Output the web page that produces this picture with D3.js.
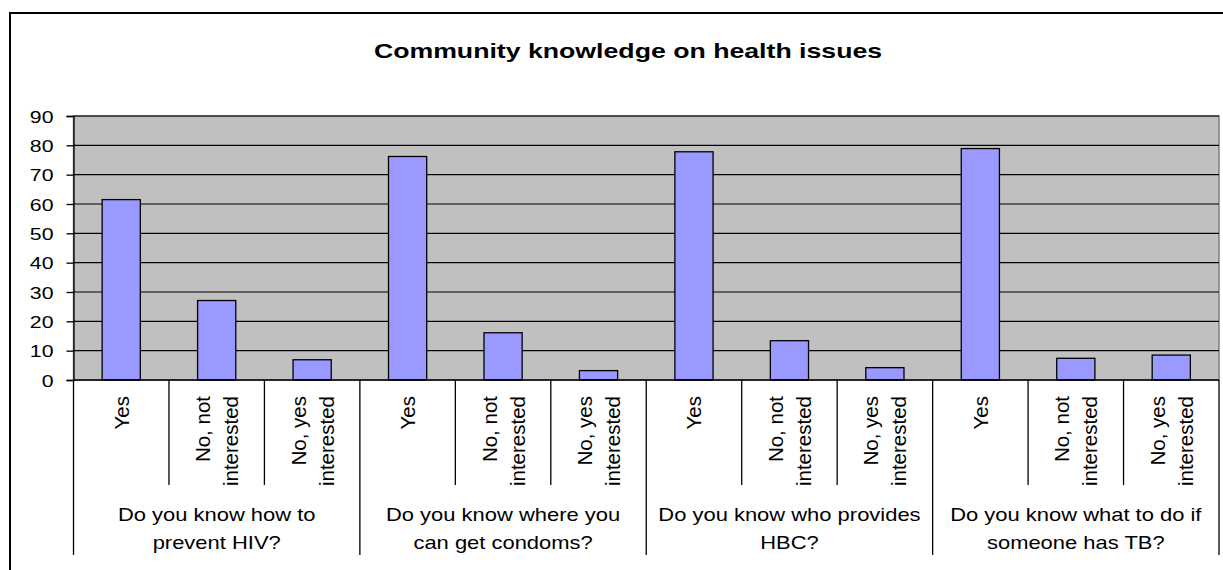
<!DOCTYPE html>
<html>
<head>
<meta charset="utf-8">
<script src="https://cdn.jsdelivr.net/npm/d3@7"></script>
<style>
  html, body { margin: 0; padding: 0; background: #fff; }
  svg { display: block; font-family: "Liberation Sans", Arial, sans-serif; }
</style>
</head>
<body>
<svg id="chart" width="1223" height="570"></svg>
<script>
// ---- data ----
const title = "Community knowledge on health issues";
const questions = [
  "Do you know how to prevent HIV?",
  "Do you know where you can get condoms?",
  "Do you know who provides HBC?",
  "Do you know what to do if someone has TB?"
];
const questionLines = [
  ["Do you know how to", "prevent HIV?"],
  ["Do you know where you", "can get condoms?"],
  ["Do you know who provides", "HBC?"],
  ["Do you know what to do if", "someone has TB?"]
];
const answers = ["Yes", "No, not interested", "No, yes interested"];
const answerLines = [["Yes"], ["No, not", "interested"], ["No, yes", "interested"]];
const hivValues = [61.5, 27.1, 6.9];
const condomValues = [76.2, 16.1, 3.2];
const hbcValues = [77.8, 13.4, 4.2];
const tbValues = [78.9, 7.4, 8.5];
const yTicks = [0, 10, 20, 30, 40, 50, 60, 70, 80, 90];

// ---- build rows ----
const seriesByQuestion = [hivValues, condomValues, hbcValues, tbValues];
const rows = [];
questions.forEach((q, qi) => {
  answers.forEach((a, ai) => {
    rows.push({ key: qi + "|" + ai, q: qi, a: ai, value: seriesByQuestion[qi][ai] });
  });
});

// ---- layout ----
const plot = { left: 73.5, right: 1219, top: 116, bottom: 380 };
const svg = d3.select("#chart");

// outer chart border
svg.append("rect")
  .attr("x", 10).attr("y", 13).attr("width", 1300).attr("height", 700)
  .attr("fill", "#fff").attr("stroke", "#000").attr("stroke-width", 2);

const x = d3.scaleBand()
  .domain(rows.map(d => d.key))
  .range([plot.left, plot.right])
  .paddingInner(0.6)
  .paddingOuter(0.3);
const step = x.step();

const y = d3.scaleLinear().domain([0, 90]).range([plot.bottom, plot.top]);

// horizontally stretched text helper
function stext(parent, tx, ty, sx, txt, size, anchor, weight) {
  return parent.append("text")
    .attr("transform", `translate(${tx},${ty}) scale(${sx},1)`)
    .attr("text-anchor", anchor)
    .attr("font-size", size)
    .attr("font-weight", weight || "normal")
    .attr("fill", "#000")
    .text(txt);
}

// title
stext(svg, 628, 58, 1.27, title, 21, "middle", "bold");

// plot background
svg.append("rect")
  .attr("x", plot.left).attr("y", plot.top)
  .attr("width", plot.right - plot.left).attr("height", plot.bottom - plot.top)
  .attr("fill", "#C0C0C0").attr("stroke", "#808080").attr("stroke-width", 1.5);

// gridlines
svg.append("g")
  .selectAll("line")
  .data(yTicks.filter(t => t > 0))
  .join("line")
  .attr("x1", plot.left).attr("x2", plot.right)
  .attr("y1", d => y(d)).attr("y2", d => y(d))
  .attr("stroke", "#000").attr("stroke-width", 1.2);

// bars
svg.append("g")
  .selectAll("rect")
  .data(rows)
  .join("rect")
  .attr("x", d => x(d.key))
  .attr("width", x.bandwidth())
  .attr("y", d => y(d.value))
  .attr("height", d => y(0) - y(d.value))
  .attr("fill", "#9999FF")
  .attr("stroke", "#000")
  .attr("stroke-width", 1.3);

// y axis
const yAxis = d3.axisLeft(y).tickValues(yTicks).tickSize(7).tickFormat("");
const yg = svg.append("g").attr("transform", `translate(${plot.left},0)`).call(yAxis);
yg.select(".domain").attr("stroke", "#000").attr("stroke-width", 1.3);
yg.selectAll(".tick line").attr("stroke", "#000").attr("stroke-width", 1.3);
yg.selectAll(".tick").each(function (d) {
  stext(d3.select(this), -20, 6, 1.25, String(d), 17, "end");
});

// x axis base line
svg.append("line")
  .attr("x1", plot.left).attr("x2", plot.right)
  .attr("y1", y(0)).attr("y2", y(0))
  .attr("stroke", "#000").attr("stroke-width", 1.3);

// category separators
const sepData = d3.range(rows.length + 1).map(i => ({ i, group: i % answers.length === 0 }));
svg.append("g")
  .selectAll("line")
  .data(sepData)
  .join("line")
  .attr("x1", d => plot.left + d.i * step)
  .attr("x2", d => plot.left + d.i * step)
  .attr("y1", y(0))
  .attr("y2", d => d.group ? 555 : 485)
  .attr("stroke", "#000").attr("stroke-width", 1.3);

// rotated answer labels
const lineGap = 28;
const ansG = svg.append("g")
  .selectAll("g")
  .data(rows)
  .join("g")
  .attr("transform", d => `translate(${x(d.key) + x.bandwidth() / 2},396)`);
ansG.each(function (d) {
  const lines = answerLines[d.a];
  const g = d3.select(this);
  lines.forEach((ln, li) => {
    const bx = 7.5 + li * lineGap - (lines.length - 1) * lineGap / 2;
    g.append("text")
      .attr("transform", `translate(${bx},0) rotate(-90)`)
      .attr("text-anchor", "end")
      .attr("font-size", 20.5)
      .text(ln);
  });
});

// question labels
const qG = svg.append("g")
  .selectAll("g")
  .data(questions)
  .join("g")
  .attr("transform", (d, i) => `translate(${plot.left + (i * 3 + 1.5) * step},0)`);
qG.each(function (d, i) {
  const g = d3.select(this);
  questionLines[i].forEach((ln, li) => {
    stext(g, 0, 521 + li * 27.6, 1.22, ln, 18, "middle");
  });
});
</script>
</body>
</html>
